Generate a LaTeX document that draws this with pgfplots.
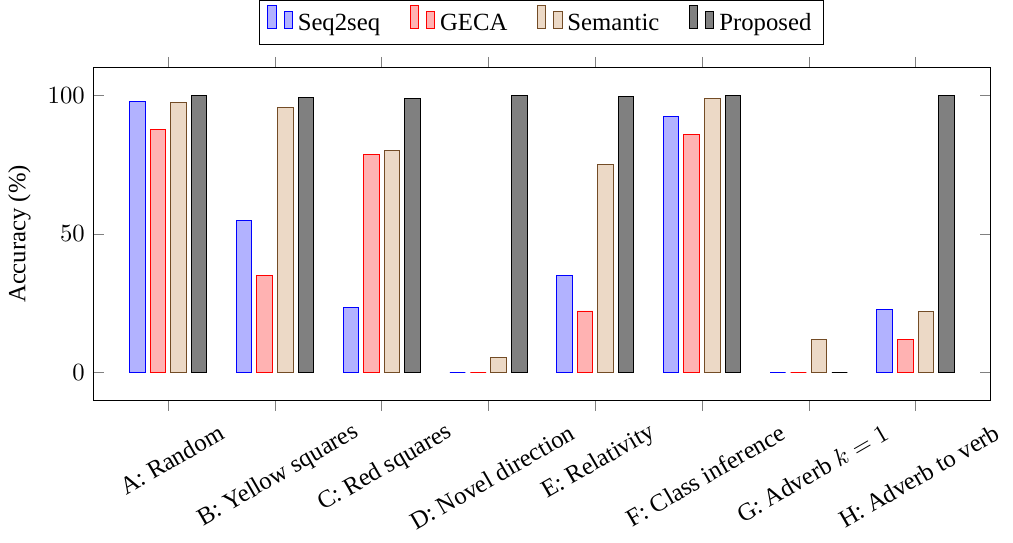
\documentclass[border=0pt]{standalone}
\usepackage{fontspec}
\setmainfont{Liberation Serif}
\usepackage{pgfplots}
\pgfplotsset{compat=1.18}
\newcommand\labtext[1]{\ifcase#1 A: Random\or B: Yellow squares\or C: Red squares\or D: Novel direction\or E: Relativity\or F: Class inference\or G: Adverb $k=1$\or H: Adverb to verb\fi}
\pgfplotsset{ybar legend/.style={/pgfplots/legend image code/.code={\draw[##1,/tikz/.cd,bar width=3.3pt,yshift=-0.2em,bar shift=0pt] plot coordinates {(0cm,0.92em) (2*\pgfplotbarwidth,0.7em)};}}}
\begin{document}
\begin{tikzpicture}
\begin{axis}[
  scale only axis,
  width=363pt, height=134.7pt,
  ybar=2pt, bar width=6.33pt,
  xmin=-0.7, xmax=7.7,
  ymin=-10, ymax=110,
  ytick={0,50,100},
  xtick={0,1,2,3,4,5,6,7},
  xticklabel={\labtext{\ticknum}},
  xticklabel style={xshift=1.5pt, yshift={-(8.1+0.25*width("\labtext{\ticknum}"))}, rotate=30, anchor=center},
  ylabel={Accuracy (\%)},
  legend columns=-1,
  legend style={at={(0.5,1)}, anchor=south, yshift=9.3pt, /tikz/every even column/.append style={column sep=10pt}},
]
\addplot coordinates {(0,97.7) (1,55.0) (2,23.6) (3,0) (4,35.0) (5,92.5) (6,0) (7,22.6)};
\addplot coordinates {(0,87.7) (1,35.0) (2,78.8) (3,0) (4,22.2) (5,86.0) (6,0) (7,11.9)};
\addplot coordinates {(0,97.4) (1,95.4) (2,80.2) (3,5.6) (4,75.2) (5,98.7) (6,12.0) (7,22.0)};
\addplot coordinates {(0,100) (1,99.3) (2,98.7) (3,100) (4,99.6) (5,100) (6,0) (7,100)};
\legend{Seq2seq, GECA, Semantic, Proposed}
\end{axis}
\end{tikzpicture}
\end{document}
